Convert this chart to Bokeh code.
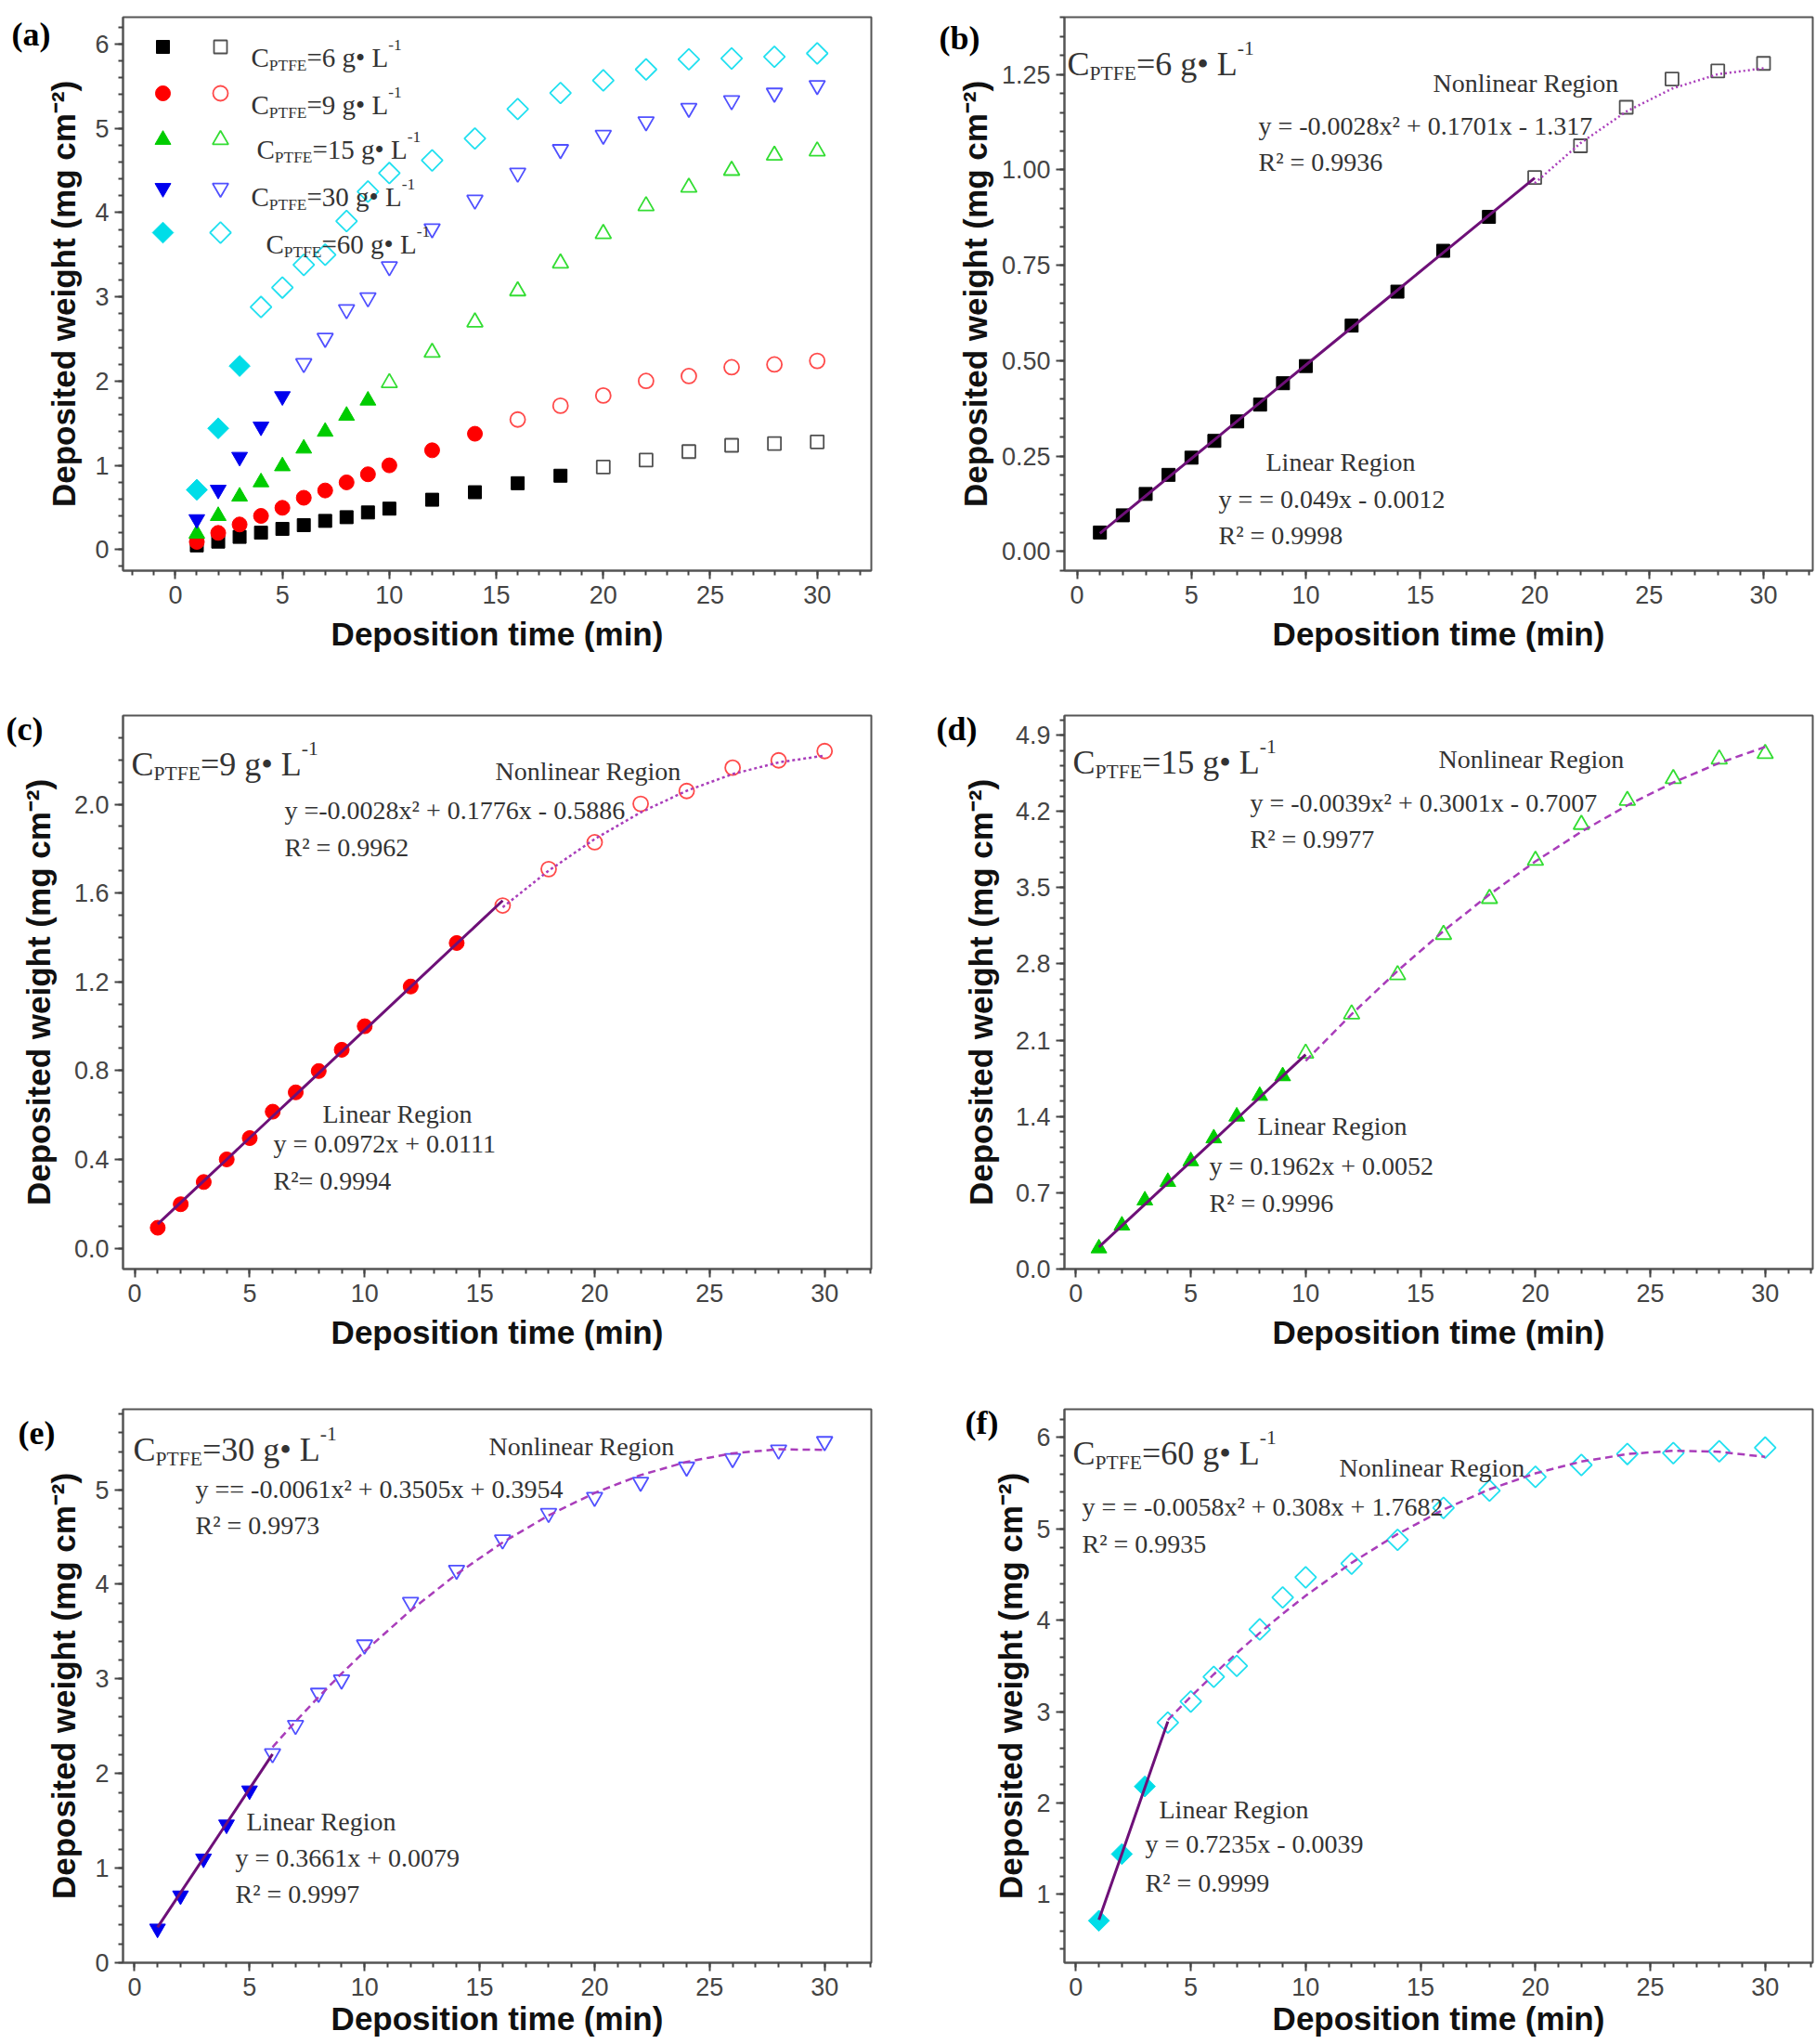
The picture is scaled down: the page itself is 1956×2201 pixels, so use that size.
import math
from bokeh.plotting import figure
from bokeh.models import Range1d, Label, SingleIntervalTicker, PrintfTickFormatter
from bokeh.layouts import gridplot
from bokeh.embed import file_html
from bokeh.resources import INLINE

# ---------------- data ----------------
time_min = [1, 2, 3, 4, 5, 6, 7, 8, 9, 10, 12, 14, 16, 18, 20, 22, 24, 26, 28, 30]
w6 = [0.050, 0.095, 0.151, 0.201, 0.246, 0.290, 0.341, 0.385, 0.441, 0.486,
      0.592, 0.681, 0.788, 0.877, 0.980, 1.063, 1.164, 1.238, 1.259, 1.279]
w9 = [0.092, 0.198, 0.298, 0.400, 0.496, 0.615, 0.702, 0.798, 0.894, 1.000,
      1.179, 1.375, 1.544, 1.708, 1.829, 2.002, 2.060, 2.165, 2.198, 2.240]
w15 = [0.19, 0.40, 0.63, 0.80, 0.99, 1.20, 1.40, 1.59, 1.77, 1.98,
       2.34, 2.70, 3.07, 3.40, 3.75, 4.08, 4.30, 4.50, 4.68, 4.73]
w30 = [0.36, 0.71, 1.10, 1.46, 1.82, 2.21, 2.51, 2.85, 2.99, 3.36,
       3.81, 4.15, 4.47, 4.75, 4.92, 5.08, 5.24, 5.33, 5.42, 5.51]
w60 = [0.71, 1.44, 2.18, 2.88, 3.11, 3.38, 3.50, 3.90, 4.25, 4.47,
       4.62, 4.88, 5.23, 5.42, 5.57, 5.70, 5.82, 5.83, 5.85, 5.89]
conc_labels = ["6", "9", "15", "30", "60"]
n_linear = [14, 12, 9, 5, 3]          # points in the linear region (filled symbols)
lin_coef = [(0.049, -0.0012), (0.0972, 0.0111), (0.1962, 0.0052), (0.3661, 0.0079), (0.7235, -0.0039)]
quad_coef = [(-0.0028, 0.1701, -1.317), (-0.0028, 0.1776, -0.5886), (-0.0039, 0.3001, -0.7007),
             (-0.0061, 0.3505, 0.3954), (-0.0058, 0.308, 1.7682)]
lin_text = [("y = = 0.049x - 0.0012", "R\u00b2 = 0.9998"),
            ("y = 0.0972x + 0.0111", "R\u00b2= 0.9994"),
            ("y = 0.1962x + 0.0052", "R\u00b2 = 0.9996"),
            ("y = 0.3661x + 0.0079", "R\u00b2 = 0.9997"),
            ("y = 0.7235x - 0.0039", "R\u00b2 = 0.9999")]
quad_text = [("y = -0.0028x\u00b2 + 0.1701x - 1.317", "R\u00b2 = 0.9936"),
             ("y =-0.0028x\u00b2 + 0.1776x - 0.5886", "R\u00b2 = 0.9962"),
             ("y = -0.0039x\u00b2 + 0.3001x - 0.7007", "R\u00b2 = 0.9977"),
             ("y == -0.0061x\u00b2 + 0.3505x + 0.3954", "R\u00b2 = 0.9973"),
             ("y = = -0.0058x\u00b2 + 0.308x + 1.7682", "R\u00b2 = 0.9935")]
weights = [w6, w9, w15, w30, w60]
panel_letters = ["(a)", "(b)", "(c)", "(d)", "(e)", "(f)"]

# ---------------- style ----------------
SERIF = "Liberation Serif"
SANS = "Liberation Sans"
FW, FH = 806, 596
markers = ["square", "circle", "triangle", "inverted_triangle", "square"]
angles = [0, 0, 0, 0, math.pi / 4]
msize = [14, 16, 17, 17, 16]
fill_cols = ["#000000", "#ff0000", "#00cc00", "#0000ee", "#00dde8"]
open_cols = ["#505050", "#ff4a4a", "#33dd33", "#5050ff", "#22e0f0"]
LIN_COL = "#6e1078"
QUAD_COL = "#a93dba"
quad_dash = ["2 3", "3 3", "8 5", "8 5", "8 5"]
TXT_COL = "#333333"
LETTER_SIZE = 36

TW = {'C': .667, 'P': .556, 'T': .611, 'F': .556, 'E': .611, '=': .564, ' ': .25,
      'g': .5, '\u2022': .35, 'L': .611, '-': .333, '.': .25}


def tw(s, size):
    return sum(TW.get(c, 0.5) for c in s) * size


def mk_label(p, dx, dy, text, size, font=SERIF, color=TXT_COL, style="normal"):
    return Label(x=p.x_range.start, y=p.y_range.end, x_offset=dx, y_offset=-dy,
                 text=text, text_font=font, text_font_size=f"{size:.1f}px",
                 text_color=color, text_font_style=style,
                 text_baseline="alphabetic", text_align="left")


def put(p, dx, dy, text, size, **kw):
    p.add_layout(mk_label(p, dx, dy, text, size, **kw))


def rich_c(p, dx, dy, conc, S):
    parts = [("C", S, 0.0), ("PTFE", 0.6 * S, -0.28 * S),
             ("=" + conc + " g\u2022 L", S, 0.0), ("-1", 0.6 * S, 0.45 * S)]
    x = dx
    for t, s, shift in parts:
        put(p, x, dy - shift, t, s)
        x += tw(t, s)


def make_fig(width, L, R, T, B, xr, yr, yint, yminor, yfmt, ystand, xstand):
    p = figure(width=width, height=T + FH + B, x_range=Range1d(*xr), y_range=Range1d(*yr),
               output_backend="svg", toolbar_location=None, title=None,
               min_border_left=L, min_border_right=R, min_border_top=T, min_border_bottom=B)
    p.grid.visible = False
    p.outline_line_color = "#555555"
    p.outline_line_width = 2
    p.background_fill_color = "white"
    p.border_fill_color = "white"
    p.xaxis.ticker = SingleIntervalTicker(interval=5, num_minor_ticks=5)
    p.yaxis.ticker = SingleIntervalTicker(interval=yint, num_minor_ticks=yminor)
    if yfmt:
        p.yaxis.formatter = PrintfTickFormatter(format=yfmt)
    for ax in (p.xaxis, p.yaxis):
        ax.axis_line_color = "#555555"
        ax.axis_line_width = 2
        ax.major_tick_line_color = "#444444"
        ax.minor_tick_line_color = "#444444"
        ax.major_tick_line_width = 2
        ax.minor_tick_line_width = 2
        ax.major_tick_out = 9
        ax.major_tick_in = 0
        ax.minor_tick_out = 5
        ax.minor_tick_in = 0
        ax.major_label_text_font = SANS
        ax.major_label_text_font_size = "27px"
        ax.major_label_text_color = "#444444"
        ax.major_label_standoff = 6
        ax.axis_label_text_font = SANS
        ax.axis_label_text_font_size = "35px"
        ax.axis_label_text_font_style = "bold"
        ax.axis_label_text_color = "#111111"
    p.xaxis.major_label_standoff = 7
    p.xaxis.axis_label = "Deposition time (min)"
    p.xaxis.axis_label_standoff = xstand
    p.yaxis.axis_label = "Deposited weight (mg cm\u207b\u00b2)"
    p.yaxis.axis_label_standoff = ystand
    return p


LEFT = dict(width=982, L=132, R=44)
RIGHT = dict(width=972, L=164, R=2)
ROWS = [(18, 144, 10), (12, 139, 10), (12, 86, 2)]   # top border, bottom border, x-title standoff


def px_to_data(p, dx, dy):
    xs, xe = p.x_range.start, p.x_range.end
    ys, ye = p.y_range.start, p.y_range.end
    return xs + dx / FW * (xe - xs), ye - dy / FH * (ye - ys)


# ---------------- panel (a) ----------------
pa = make_fig(LEFT["width"], LEFT["L"], LEFT["R"], ROWS[0][0], ROWS[0][1],
              (-2.45, 32.53), (-0.25, 6.32), 1, 5, None, 11, ROWS[0][2])
for i, w in enumerate(weights):
    n = n_linear[i]
    pa.scatter(time_min[:n], w[:n], marker=markers[i], angle=angles[i], size=msize[i],
               fill_color=fill_cols[i], line_color=fill_cols[i])
    pa.scatter(time_min[n:], w[n:], marker=markers[i], angle=angles[i], size=msize[i],
               fill_color=None, line_color=open_cols[i], line_width=1.8)

# legend key (layout positions in pixels from the frame's top-left corner)
leg_rows = [32, 82, 132, 184, 232]
leg_txt_pos = [(138, 43), (138, 94), (144, 142), (138, 193), (154, 244)]
for i, c in enumerate(conc_labels):
    kx1, ky = px_to_data(pa, 43, leg_rows[i])
    kx2, _ = px_to_data(pa, 105, leg_rows[i])
    pa.scatter([kx1], [ky], marker=markers[i], angle=angles[i], size=msize[i],
               fill_color=fill_cols[i], line_color=fill_cols[i])
    pa.scatter([kx2], [ky], marker=markers[i], angle=angles[i], size=msize[i],
               fill_color=None, line_color=open_cols[i], line_width=1.8)
    rich_c(pa, leg_txt_pos[i][0], leg_txt_pos[i][1], c, 29)
pa.add_layout(mk_label(pa, -120, 18, panel_letters[0], LETTER_SIZE, style="bold", color="#000000"), "right")

# ---------------- panels (b)-(f) ----------------
cfg = [
    dict(side=RIGHT, row=0, xr=(-0.55, 32.15), yr=(-0.05, 1.40), yint=0.25, ymin=5, yfmt="%.2f", ys=6,
         lab=(-135, 22), lside="below", c=(3, 50), nl=(397, 71), q=(209, 117), qr=(209, 156),
         l=(217, 479), le=(166, 519), lr=(166, 558)),
    dict(side=LEFT, row=1, xr=(-0.51, 32.03), yr=(-0.094, 2.4), yint=0.4, ymin=4, yfmt="%.1f", ys=16,
         lab=(-126, 14), lside="right", c=(9, 52), nl=(401, 60), q=(174, 102), qr=(174, 142),
         l=(215, 429), le=(162, 461), lr=(162, 501)),
    dict(side=RIGHT, row=1, xr=(-0.5, 32.07), yr=(0.0, 5.08), yint=0.7, ymin=5, yfmt="%.1f", ys=15,
         lab=(-138, 14), lside="below", c=(9, 50), nl=(403, 47), q=(200, 94), qr=(200, 133),
         l=(208, 442), le=(156, 485), lr=(156, 525)),
    dict(side=LEFT, row=2, xr=(-0.5, 32.03), yr=(0.0, 5.85), yint=1, ymin=5, yfmt=None, ys=11,
         lab=(-113, 25), lside="right", c=(11, 43), nl=(394, 40), q=(78, 86), qr=(78, 125),
         l=(133, 444), le=(121, 483), lr=(121, 522)),
    dict(side=RIGHT, row=2, xr=(-0.5, 32.07), yr=(0.25, 6.31), yint=1, ymin=5, yfmt=None, ys=5,
         lab=(-107, 14), lside="left", c=(9, 47), nl=(296, 63), q=(19, 105), qr=(19, 145),
         l=(102, 431), le=(87, 468), lr=(87, 510)),
]

figs = [pa]
for i, c in enumerate(cfg):
    s = c["side"]
    T, B, XS = ROWS[c["row"]]
    p = make_fig(s["width"], s["L"], s["R"], T, B, c["xr"], c["yr"], c["yint"], c["ymin"],
                 c["yfmt"], c["ys"], XS)
    w = weights[i]
    n = n_linear[i]
    p.scatter(time_min[:n], w[:n], marker=markers[i], angle=angles[i], size=msize[i],
              fill_color=fill_cols[i], line_color=fill_cols[i])
    p.scatter(time_min[n:], w[n:], marker=markers[i], angle=angles[i], size=msize[i],
              fill_color=None, line_color=open_cols[i], line_width=1.8)
    xl = time_min[:n + 1]
    a1, b1 = lin_coef[i]
    p.line(xl, [a1 * x + b1 for x in xl], line_color=LIN_COL, line_width=3)
    xq = time_min[n:]
    qa, qb, qc = quad_coef[i]
    p.line(xq, [qa * x * x + qb * x + qc for x in xq], line_color=QUAD_COL, line_width=2.5,
           line_dash=quad_dash[i])
    rich_c(p, c["c"][0], c["c"][1], conc_labels[i], 36)
    put(p, c["nl"][0], c["nl"][1], "Nonlinear Region", 28)
    put(p, c["q"][0], c["q"][1], quad_text[i][0], 28)
    put(p, c["qr"][0], c["qr"][1], quad_text[i][1], 28)
    put(p, c["l"][0], c["l"][1], "Linear Region", 28)
    put(p, c["le"][0], c["le"][1], lin_text[i][0], 28)
    put(p, c["lr"][0], c["lr"][1], lin_text[i][1], 28)
    p.add_layout(mk_label(p, c["lab"][0], c["lab"][1], panel_letters[i + 1], LETTER_SIZE,
                          style="bold", color="#000000"), c["lside"])
    figs.append(p)

grid = gridplot([[figs[0], figs[1]], [figs[2], figs[3]], [figs[4], figs[5]]], toolbar_location=None)

with open("out.html", "w") as f:
    f.write(file_html(grid, INLINE))
